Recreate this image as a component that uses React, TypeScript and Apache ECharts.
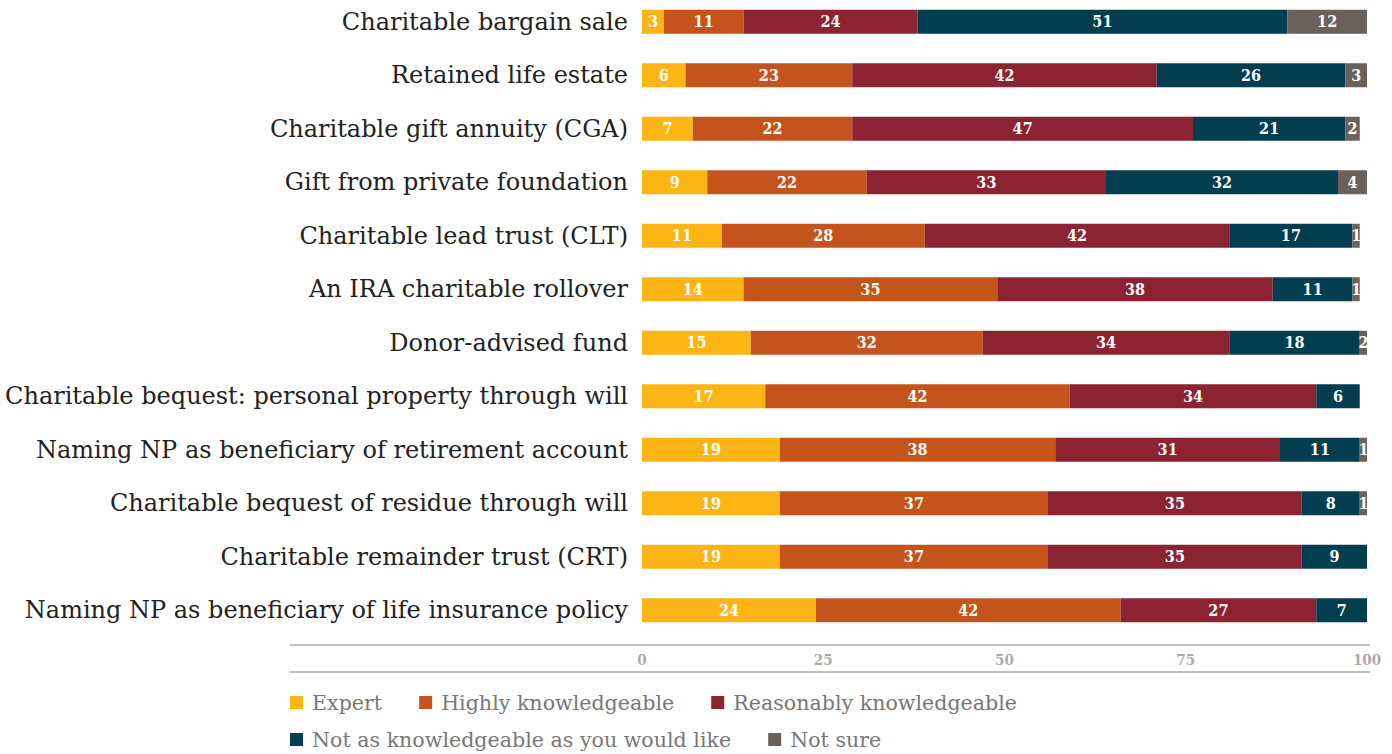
import React, { useEffect, useRef } from "react";
import * as echarts from "echarts";

const categories = [
  "Charitable bargain sale",
  "Retained life estate",
  "Charitable gift annuity (CGA)",
  "Gift from private foundation",
  "Charitable lead trust (CLT)",
  "An IRA charitable rollover",
  "Donor-advised fund",
  "Charitable bequest: personal property through will",
  "Naming NP as beneficiary of retirement account",
  "Charitable bequest of residue through will",
  "Charitable remainder trust (CRT)",
  "Naming NP as beneficiary of life insurance policy",
];

const seriesNames = [
  "Expert",
  "Highly knowledgeable",
  "Reasonably knowledgeable",
  "Not as knowledgeable as you would like",
  "Not sure",
];

const expert = [3, 6, 7, 9, 11, 14, 15, 17, 19, 19, 19, 24];
const highly = [11, 23, 22, 22, 28, 35, 32, 42, 38, 37, 37, 42];
const reasonably = [24, 42, 47, 33, 42, 38, 34, 34, 31, 35, 35, 27];
const notAs = [51, 26, 21, 32, 17, 11, 18, 6, 11, 8, 9, 7];
const notSure = [12, 3, 2, 4, 1, 1, 2, 0, 1, 1, 0, 0];

const xTicks = [0, 25, 50, 75, 100];

const colors = ["#FDB515", "#C4541C", "#8B2332", "#023E4F", "#6B615B"];

// the chart div is shifted up by OFF px so the first row can sit above y=0 of the page
const OFF = 5;

export default function App() {
  const ref = useRef<HTMLDivElement>(null);
  useEffect(() => {
    if (!ref.current) return;
    const chart = echarts.init(ref.current, null, { renderer: "svg" });
    const values = [expert, highly, reasonably, notAs, notSure];
    const labelFont = "'DejaVu Serif Condensed', 'DejaVu Serif', serif";
    const legendText = {
      color: "#777",
      fontSize: 20.6,
      fontFamily: "'DejaVu Serif', serif",
      padding: [0, 0, 0, 4],
    };
    chart.setOption({
      animation: false,
      grid: { left: 642, right: 25, top: 0, height: 642, containLabel: false },
      xAxis: {
        type: "value",
        min: xTicks[0],
        max: xTicks[xTicks.length - 1],
        interval: 25,
        axisLine: { show: false },
        axisTick: { show: false },
        splitLine: { show: false },
        axisLabel: {
          color: "#aaa",
          fontSize: 15,
          fontWeight: "bold",
          fontFamily: labelFont,
          margin: 15,
        },
      },
      yAxis: {
        type: "category",
        data: categories,
        inverse: true,
        axisLine: { show: false },
        axisTick: { show: false },
        axisLabel: {
          color: "#222",
          fontSize: 24,
          fontFamily: "'DejaVu Serif', serif",
          margin: 14,
        },
      },
      legend: [
        {
          data: seriesNames.slice(0, 3),
          left: 290,
          top: 692 + OFF,
          padding: 0,
          itemWidth: 13,
          itemHeight: 13,
          itemGap: 37,
          icon: "rect",
          textStyle: legendText,
        },
        {
          data: seriesNames.slice(3),
          left: 290,
          top: 729 + OFF,
          padding: 0,
          itemWidth: 13,
          itemHeight: 13,
          itemGap: 37,
          icon: "rect",
          textStyle: legendText,
        },
      ],
      graphic: [
        {
          type: "line",
          shape: { x1: 290, y1: 645 + OFF, x2: 1370, y2: 645 + OFF },
          style: { stroke: "#aaa", lineWidth: 1.5 },
        },
        {
          type: "line",
          shape: { x1: 290, y1: 672 + OFF, x2: 1370, y2: 672 + OFF },
          style: { stroke: "#aaa", lineWidth: 1.5 },
        },
      ],
      series: seriesNames.map((name, i) => ({
        name,
        type: "bar",
        stack: "total",
        barWidth: 24,
        itemStyle: { color: colors[i] },
        label: {
          show: true,
          position: "inside",
          color: "#fff",
          fontSize: 16,
          fontWeight: "bold",
          fontFamily: labelFont,
          formatter: (p: any) => (p.value > 0 ? String(p.value) : ""),
        },
        data: values[i],
      })),
    });
    return () => chart.dispose();
  }, []);
  return (
    <div
      ref={ref}
      style={{
        position: "fixed",
        left: 0,
        top: -OFF,
        width: 1392,
        height: 754 + OFF,
        background: "#fff",
      }}
    />
  );
}
